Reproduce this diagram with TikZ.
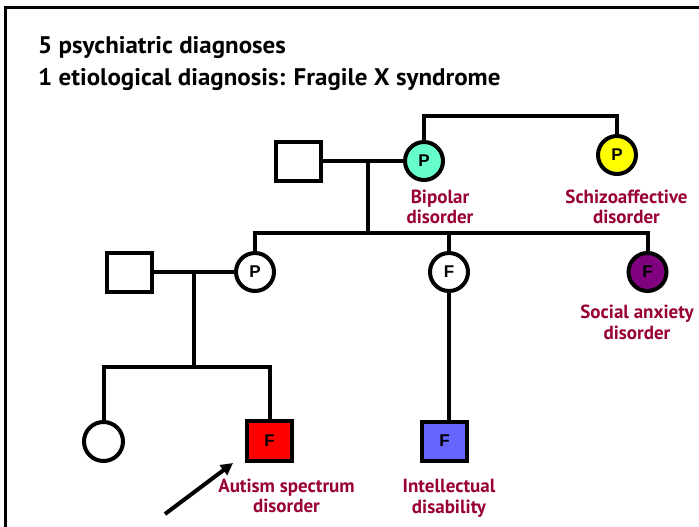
\documentclass[tikz,border=0pt]{standalone}
\usepackage{fontspec}
\setmainfont{PT Sans}
\newfontfamily\symfont{Liberation Sans}
\usetikzlibrary{arrows.meta}
\definecolor{lblcol}{RGB}{153,0,51}
\definecolor{teal1}{RGB}{102,255,204}
\definecolor{yel1}{RGB}{255,255,0}
\definecolor{purp1}{RGB}{128,0,128}
\definecolor{blue1}{RGB}{102,102,255}
\definecolor{red1}{RGB}{255,0,0}
\begin{document}
\begin{tikzpicture}[x=1pt,y=-1pt,
  ln/.style={line width=4pt},
  male/.style={draw,line width=4pt,rectangle,minimum width=45pt,minimum height=39pt,inner sep=0pt,
     font=\symfont\bfseries\fontsize{17}{17}\selectfont},
  female/.style={draw,line width=4pt,circle,minimum size=38pt,inner sep=0pt,
     font=\symfont\bfseries\fontsize{17}{17}\selectfont},
  lbl/.style={anchor=base,text=lblcol,inner sep=0pt,font=\bfseries\fontsize{19}{19}\selectfont},
  ttl/.style={anchor=base west,inner sep=0pt,xscale=1.04,font=\bfseries\fontsize{24}{24}\selectfont}]
\useasboundingbox (0,0) rectangle (699,527);
\fill[white] (0,0) rectangle (699,527);
% frame
\coordinate (fb) at (5.5,530);
\coordinate (fc) at (5.5,7.5);
\coordinate (fr) at (702,7.5);
\draw[line width=3pt] (fb) -- (fc) -- (fr);
% title
\node[ttl] (t1) at (38,54) {5 psychiatric diagnoses};
\node[ttl] (t2) at (38,85) {1 etiological diagnosis: Fragile X syndrome};
% generation I
\node[male] (gf) at (298.5,161) {};
\node[female,fill=teal1] (gm) at (424,161) {P};
\node[female,fill=yel1] (sz) at (617,155) {P};
\coordinate (top) at (520,116);
\draw[ln] (gm.north) |- (top) -| (sz.north);
\coordinate (m1) at (368,161);
\draw[ln] (gf.east) -- (gm.west);
% generation II
\coordinate (sm) at (368,233);
\node[male] (hb) at (129.5,272) {};
\node[female] (pm) at (255,272) {P};
\node[female] (fm) at (449,272) {F};
\node[female,fill=purp1] (sd) at (647.5,272) {F};
\draw[ln] (m1) -- (sm);
\draw[ln] (pm.north) |- (sm) -| (sd.north);
\draw[ln] (fm.north) -- (fm.north |- sm);
\coordinate (m2) at (194,272);
\draw[ln] (hb.east) -- (pm.west);
% generation III
\coordinate (cm) at (194,367);
\node[female,minimum size=39pt] (gc) at (103.5,441.5) {};
\node[male,fill=red1,minimum height=40pt] (as) at (269.5,441) {F};
\node[male,fill=blue1] (id) at (444.5,441) {F};
\draw[ln] (m2) -- (cm);
\draw[ln] (gc.north) |- (cm) -| (as.north);
\draw[ln] (fm.south) -- (fm.south |- id.north);
% arrow
\coordinate (ar) at (165,514);
\coordinate (ah) at (233,463);
\draw[ln,-{Triangle[length=12pt,width=12pt]}] (ar) -- (ah);
% labels
\node[lbl] (l1a) at (440,203) {Bipolar};
\node[lbl] (l1b) at (440,223) {disorder};
\node[lbl] (l2a) at (626.5,203) {Schizoaffective};
\node[lbl] (l2b) at (626.5,223) {disorder};
\node[lbl] (l3a) at (637,318) {Social anxiety};
\node[lbl] (l3b) at (637,339) {disorder};
\node[lbl] (l4a) at (286.5,492) {Autism spectrum};
\node[lbl] (l4b) at (286.5,512) {disorder};
\node[lbl] (l5a) at (449,492) {Intellectual};
\node[lbl] (l5b) at (449,513) {disability};
\end{tikzpicture}
\end{document}
